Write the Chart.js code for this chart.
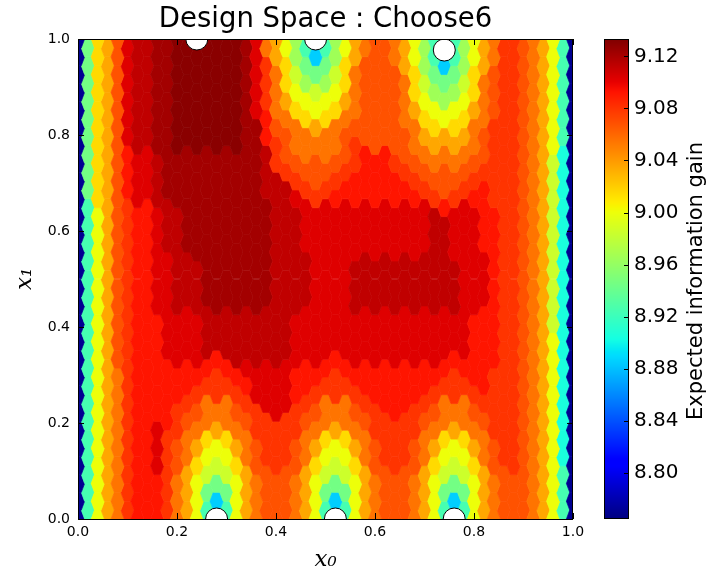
<!DOCTYPE html>
<html>
<head>
<meta charset="utf-8">
<title>Design Space : Choose6</title>
<script src="https://cdn.jsdelivr.net/npm/chart.js@4/dist/chart.umd.min.js"></script>
<style>
  html, body { margin: 0; padding: 0; background: #fff; }
  canvas { display: block; }
</style>
</head>
<body>
<canvas id="chart" width="716" height="587"></canvas>
<script>
// hexbin columns along x0, rows along x1 (odd columns sit half a row higher)
const x0Grid = [0.00, 0.02, 0.04, 0.06, 0.08, 0.10, 0.12, 0.14, 0.16, 0.18,
                0.20, 0.22, 0.24, 0.26, 0.28, 0.30, 0.32, 0.34, 0.36, 0.38,
                0.40, 0.42, 0.44, 0.46, 0.48, 0.50, 0.52, 0.54, 0.56, 0.58,
                0.60, 0.62, 0.64, 0.66, 0.68, 0.70, 0.72, 0.74, 0.76, 0.78,
                0.80, 0.82, 0.84, 0.86, 0.88, 0.90, 0.92, 0.94, 0.96, 0.98, 1.00];
const x1Grid = [0.000, 0.037, 0.074, 0.111, 0.148, 0.185, 0.222, 0.259, 0.296, 0.333,
                0.370, 0.407, 0.444, 0.481, 0.519, 0.556, 0.593, 0.630, 0.667, 0.704,
                0.741, 0.778, 0.815, 0.852, 0.889, 0.926, 0.963, 1.000];

// expected information gain, one code per cell
const levelCodes = '0123456789abcdefgh';
const levelValues = [8.770, 8.885, 8.905, 8.925, 8.945, 8.965, 8.985, 9.000, 9.015,
                     9.035, 9.055, 9.068, 9.080, 9.092, 9.103, 9.113, 9.122, 9.130];

// bottom row (x1 = 0) first
const gainRows = [
  '0379acd ddca9 73137 9abbb a9731 379ab bba97 31379 ab bba9730',
  '0379acd ddca9 74147 9abbb a9741 479ab bba97 41479 ab bba9730',
  '0379acd ddca9 76467 9abbb a9764 679ab bba97 64679 ab bba9730',
  '0379acd decba 87678 abccc ba876 78abc ccba8 7678a bc cba9720',
  '0379acd decba 98789 abccc ba987 89abc ccba9 8789a bc cba9720',
  '0379acd dedcb aa9aa bcccc cbaa9 aabcc cccba a9aab cc cba9720',
  '0379acd dddcc baaab cceee ccbaa abccd ddccb aaabc cc cba9720',
  '0379acd ddddd ccccc deeee ddccc ccddd ddddc ccccd cc cba9720',
  '0379acd ddddd ddcdd eeeee ddddc ddddd ddddd dcddd cc cba9720',
  '0379bcd ddeee efdff fffff eeeed eeeee eeeee ededd dc cba9720',
  '0379bcd ddeee effff fffff eeeee eeeee eeeee eeedd dc cba9720',
  '0379bcd ddeee effff fffff eeeee eeeee eeeee eeedd dc cba9620',
  '0379bcd deeff fgggg gggff ffeee effff fffff ffeee dc cba9620',
  '0379bcd deeff fgggg gggff ffeee effff fffff ffeee dc cba9620',
  '0379bcd deeff fgggg gggff ffeee effff fffff ffeee dc cba9620',
  '0379bcd deffg ggggg gggff feeee eeeee eeeef feeed dc cba9620',
  '0379bcd deffg ggggg gggff feeee eeeee eeeef feeed dc cba9620',
  '0379bcd deffg ggggg gggff feeee eeeee eeeef deeed dc cba9620',
  '0489bde efggg ggggg ggfff ecccd ddddd dddcc bccdd cc cba9620',
  '0489bde efggg ggggg ggffc cbbbc cdddd dccbb bbbcc cc cba9620',
  '0489bde efggg ggggg ggfcb babab bcddd cbbaa aaabb cc cba9620',
  '0489bef fgghh hhhhh ggdcb aaaaa bcbbb bba99 999ab cc cba9730',
  '0489bef fgghh hhhhh ggdba a898a abbbb baa88 788aa cc cba9730',
  '0489bef fgghh hhhhh geca9 87778 9abbb ba977 5779a bc cba9730',
  '0489bef fgghh hhhhh geca8 75657 8abbb ba865 4568a bc cba9730',
  '0489bef fgghh hhhhh geca8 64446 8abbb b9854 14589 bc cba9730',
  '0489bef fgghh hhhhh gea97 53135 79abb a9753 13579 ac cba9730',
  '0489bef fgghh hhhhh gea97 53135 79abb a9753 13579 ac cba9730'
];

// chosen designs
const designX0 = [0.24, 0.48, 0.74, 0.28, 0.52, 0.76];
const designX1 = [1.0, 1.0, 0.977, 0.0, 0.0, 0.0];

const axisTicks = [0, 0.2, 0.4, 0.6, 0.8, 1.0];
const gainTicks = [8.80, 8.84, 8.88, 8.92, 8.96, 9.00, 9.04, 9.08, 9.12];
const gainRange = [8.7644, 9.1334];

const x1Offset = (x1Grid[1] - x1Grid[0]) / 2;
const cells = [];
gainRows.forEach((row, j) => {
  row.replace(/ /g, '').split('').forEach((c, i) => {
    cells.push({x: x0Grid[i], y: x1Grid[j] + (i % 2 ? x1Offset : 0), v: levelValues[levelCodes.indexOf(c)]});
  });
});
const designs = designX0.map((x, i) => ({x: x, y: designX1[i]}));

function jet(t) {
  t = Math.min(1, Math.max(0, t));
  const seg = pts => {
    for (let i = 1; i < pts.length; i++) {
      if (t <= pts[i][0]) {
        const [t0, v0] = pts[i - 1], [t1, v1] = pts[i];
        return v0 + (v1 - v0) * (t - t0) / (t1 - t0);
      }
    }
    return pts[pts.length - 1][1];
  };
  const r = seg([[0, 0], [0.35, 0], [0.66, 1], [0.89, 1], [1, 0.5]]);
  const g = seg([[0, 0], [0.125, 0], [0.375, 1], [0.64, 1], [0.91, 0], [1, 0]]);
  const b = seg([[0, 0.5], [0.11, 1], [0.34, 1], [0.65, 0], [1, 0]]);
  return 'rgb(' + Math.round(r * 255) + ',' + Math.round(g * 255) + ',' + Math.round(b * 255) + ')';
}
const gainColor = (cb, v) => jet((v - cb.min) / (cb.max - cb.min));

const sans = 'DejaVu Sans';
const serif = 'DejaVu Serif';
const fixedTicks = values => scale => { scale.ticks = values.map(v => ({value: v})); };

// hexagons drawn at the positions the scatter controller computed
const hexPlugin = {
  id: 'hexCells',
  beforeDatasetsDraw(chart) {
    const {ctx, chartArea: a, scales: {x, y, cb}} = chart;
    const meta = chart.getDatasetMeta(0);
    const w = Math.abs(x.getPixelForValue(x0Grid[1]) - x.getPixelForValue(x0Grid[0])) * 4 / 3;
    const h = Math.abs(y.getPixelForValue(x1Grid[1]) - y.getPixelForValue(x1Grid[0]));
    ctx.save();
    ctx.beginPath();
    ctx.rect(a.left, a.top, a.right - a.left, a.bottom - a.top);
    ctx.clip();
    ctx.lineWidth = 0.7;
    meta.data.forEach((pt, k) => {
      const col = gainColor(cb, cells[k].v);
      ctx.fillStyle = col;
      ctx.strokeStyle = col;
      ctx.beginPath();
      ctx.moveTo(pt.x - w / 2, pt.y);
      ctx.lineTo(pt.x - w / 4, pt.y - h / 2);
      ctx.lineTo(pt.x + w / 4, pt.y - h / 2);
      ctx.lineTo(pt.x + w / 2, pt.y);
      ctx.lineTo(pt.x + w / 4, pt.y + h / 2);
      ctx.lineTo(pt.x - w / 4, pt.y + h / 2);
      ctx.closePath();
      ctx.fill();
      ctx.stroke();
    });
    ctx.restore();
  }
};

// axes box with inward ticks
const framePlugin = {
  id: 'frame',
  afterDatasetsDraw(chart) {
    const {ctx, chartArea: a, scales: {x, y}} = chart;
    ctx.save();
    ctx.strokeStyle = '#000';
    ctx.lineWidth = 1;
    ctx.beginPath();
    axisTicks.forEach(v => {
      const px = Math.round(x.getPixelForValue(v)) + 0.5;
      ctx.moveTo(px, a.bottom); ctx.lineTo(px, a.bottom - 6);
      ctx.moveTo(px, a.top); ctx.lineTo(px, a.top + 6);
      const py = Math.round(y.getPixelForValue(v)) + 0.5;
      ctx.moveTo(a.left, py); ctx.lineTo(a.left + 6, py);
      ctx.moveTo(a.right, py); ctx.lineTo(a.right - 6, py);
    });
    ctx.stroke();
    ctx.strokeRect(a.left + 0.5, a.top + 0.5, a.right - a.left - 1, a.bottom - a.top);
    ctx.restore();
  }
};

// colour bar beside the cb axis
const colorbarPlugin = {
  id: 'colorbar',
  afterDraw(chart) {
    const {ctx, scales: {cb}} = chart;
    const left = cb.left + 31, width = 25;
    const top = cb.getPixelForValue(gainRange[1]);
    const bottom = cb.getPixelForValue(gainRange[0]);
    ctx.save();
    for (let py = Math.floor(top); py < bottom; py++) {
      ctx.fillStyle = gainColor(cb, cb.getValueForPixel(py + 0.5));
      ctx.fillRect(left, py, width, 1);
    }
    ctx.strokeStyle = '#000';
    ctx.lineWidth = 1;
    ctx.strokeRect(left + 0.5, Math.round(top) + 0.5, width - 1, Math.round(bottom - top) - 1);
    ctx.beginPath();
    gainTicks.forEach(v => {
      const py = Math.round(cb.getPixelForValue(v)) + 0.5;
      ctx.moveTo(left + width, py); ctx.lineTo(left + width - 5, py);
    });
    ctx.stroke();
    ctx.fillStyle = '#000';
    ctx.font = '21px "' + sans + '"';
    ctx.textAlign = 'center';
    ctx.textBaseline = 'alphabetic';
    ctx.translate(cb.left + 129, (top + bottom) / 2 + 2);
    ctx.rotate(-Math.PI / 2);
    ctx.fillText('Expected information gain', 0, 0);
    ctx.restore();
  }
};

new Chart(document.getElementById('chart'), {
  type: 'scatter',
  data: {
    datasets: [{
      label: 'gain',
      data: cells,
      pointRadius: 0,
      pointHoverRadius: 0,
      clip: 0
    }, {
      label: 'designs',
      data: designs,
      pointRadius: 11,
      pointHoverRadius: 11,
      backgroundColor: '#fff',
      borderColor: '#000',
      borderWidth: 1,
      clip: 0
    }]
  },
  options: {
    responsive: false,
    devicePixelRatio: 1,
    animation: false,
    events: [],
    layout: {padding: 0},
    plugins: {
      legend: {display: false},
      tooltip: {enabled: false}
    },
    scales: {
      x: {
        type: 'linear', position: 'bottom', min: 0, max: 1,
        afterBuildTicks: fixedTicks(axisTicks),
        afterFit: s => { s.height = 68; },
        grid: {display: false, drawTicks: false},
        border: {display: false},
        ticks: {color: '#000', padding: 5, maxRotation: 0, autoSkip: false,
                font: {family: sans, size: 14}, callback: v => v.toFixed(1)},
        title: {display: true, text: 'x₀', color: '#000',
                font: {family: serif, style: 'italic', size: 23}, padding: {top: 0, bottom: 13}}
      },
      y: {
        type: 'linear', position: 'left', min: 0, max: 1,
        afterBuildTicks: fixedTicks(axisTicks),
        afterFit: s => { s.width = 78; s.paddingTop = 0; s.paddingBottom = 0; },
        grid: {display: false, drawTicks: false},
        border: {display: false},
        ticks: {color: '#000', padding: 8, autoSkip: false,
                font: {family: sans, size: 14}, callback: v => v.toFixed(1)},
        title: {display: true, text: 'x₁', color: '#000',
                font: {family: serif, style: 'italic', size: 23}, padding: {top: 11, bottom: 0}}
      },
      xt: {
        type: 'linear', position: 'top', min: 0, max: 1,
        afterFit: s => { s.height = 39; },
        grid: {display: false, drawTicks: false},
        border: {display: false},
        ticks: {display: false},
        title: {display: true, text: 'Design Space : Choose6', color: '#000',
                font: {family: sans, size: 27.5}, padding: {top: 3, bottom: 0}}
      },
      cb: {
        type: 'linear', position: 'right', min: gainRange[0], max: gainRange[1],
        afterBuildTicks: fixedTicks(gainTicks),
        afterFit: s => { s.width = 143; s.paddingTop = 0; s.paddingBottom = 0; },
        grid: {display: false, drawTicks: false},
        border: {display: false},
        ticks: {color: '#000', padding: 61, autoSkip: false,
                font: {family: sans, size: 20}, callback: v => v.toFixed(2)}
      }
    }
  },
  plugins: [hexPlugin, framePlugin, colorbarPlugin]
});
</script>
</body>
</html>
